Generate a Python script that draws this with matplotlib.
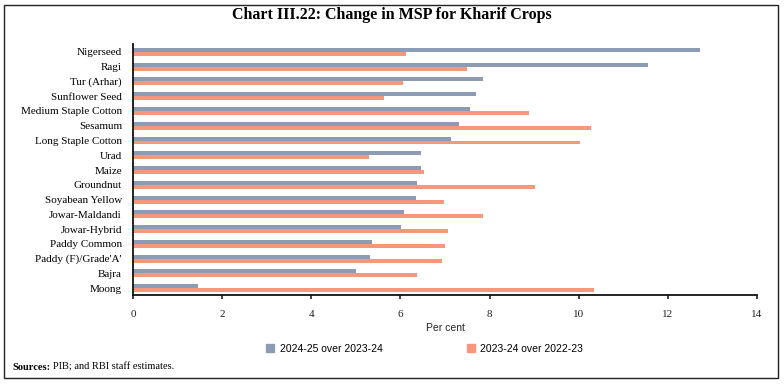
import matplotlib
matplotlib.use("Agg")
import matplotlib.pyplot as plt
import matplotlib.patches as patches
from matplotlib.lines import Line2D
import numpy as np

crops = ["Nigerseed", "Ragi", "Tur (Arhar)", "Sunflower Seed", "Medium Staple Cotton",
         "Sesamum", "Long Staple Cotton", "Urad", "Maize", "Groundnut",
         "Soyabean Yellow", "Jowar-Maldandi", "Jowar-Hybrid", "Paddy Common",
         "Paddy (F)/Grade'A'", "Bajra", "Moong"]
chg_2425 = [12.72, 11.55, 7.86, 7.69, 7.57, 7.32, 7.14, 6.47, 6.46, 6.37,
            6.35, 6.08, 6.01, 5.36, 5.31, 5.00, 1.45]
chg_2324 = [6.13, 7.49, 6.06, 5.63, 8.88, 10.28, 10.03, 5.30, 6.52, 9.01,
            6.98, 7.86, 7.07, 7.01, 6.94, 6.38, 10.35]
series_names = ["2024-25 over 2023-24", "2023-24 over 2022-23"]
xticks = [0, 2, 4, 6, 8, 10, 12, 14]

gray = "#8c9cb4"
salmon = "#f4977b"
serif = "Liberation Serif"
sans = "Liberation Sans"

W, H = 784, 384
fig = plt.figure(figsize=(W / 100, H / 100), dpi=100)

# outer frame
fig.patches.append(patches.Rectangle((4 / W, 6 / H), 774 / W, 1 - 11 / H,
                                     transform=fig.transFigure, fill=False,
                                     edgecolor="#222222", linewidth=1.0))

fig.text(0.5, 1 - 15 / H, "Chart III.22: Change in MSP for Kharif Crops",
         ha="center", va="center", fontsize=11.5, fontweight="bold", family=serif)

ax = fig.add_axes([133 / W, 1 - 295 / H, 624 / W, 251 / H])

n = len(crops)
y = np.arange(n)[::-1]
h = 0.27
ax.barh(y + h / 2, chg_2425, height=h, color=gray, label=series_names[0])
ax.barh(y - h / 2, chg_2324, height=h, color=salmon, label=series_names[1])

ax.set_ylim(-0.47, n - 1 + 0.54)
ax.set_xlim(0, 14)
ax.set_yticks(y)
ax.set_yticklabels(crops, family=serif, fontsize=8)
ax.tick_params(axis="y", length=0, pad=8)
ax.set_xticks(xticks)
ax.set_xticklabels([str(t) for t in xticks], family=serif, fontsize=8)
ax.tick_params(axis="x", length=3, width=1.2, pad=8, colors="#222222")

for s in ["top", "right"]:
    ax.spines[s].set_visible(False)
for s in ["left", "bottom"]:
    ax.spines[s].set_linewidth(1.3)
    ax.spines[s].set_color("#111111")

fig.text(445 / W, 1 - 328 / H, "Per cent", ha="center", va="center",
         fontsize=7.5, family=sans, color="#222222")

handles = [Line2D([], [], marker="s", linestyle="", markersize=6,
                  markerfacecolor=c, markeredgecolor=c) for c in (gray, salmon)]
fig.legend(handles, series_names, loc="center", ncol=2,
           bbox_to_anchor=(424 / W, 1 - 349 / H), frameon=False,
           prop={"family": sans, "size": 7.5}, columnspacing=8.0,
           handletextpad=0.4, handlelength=1.0)

t = fig.text(12 / W, 1 - 370 / H, "Sources:", ha="left", va="baseline",
             fontsize=7.5, fontweight="bold", family=serif)
fig.canvas.draw()
bb = t.get_window_extent()
fig.text((bb.x1 + 3) / W, 1 - 370 / H, "PIB; and RBI staff estimates.",
         ha="left", va="baseline", fontsize=7.5, family=serif)

fig.savefig("out.png", dpi=100)
